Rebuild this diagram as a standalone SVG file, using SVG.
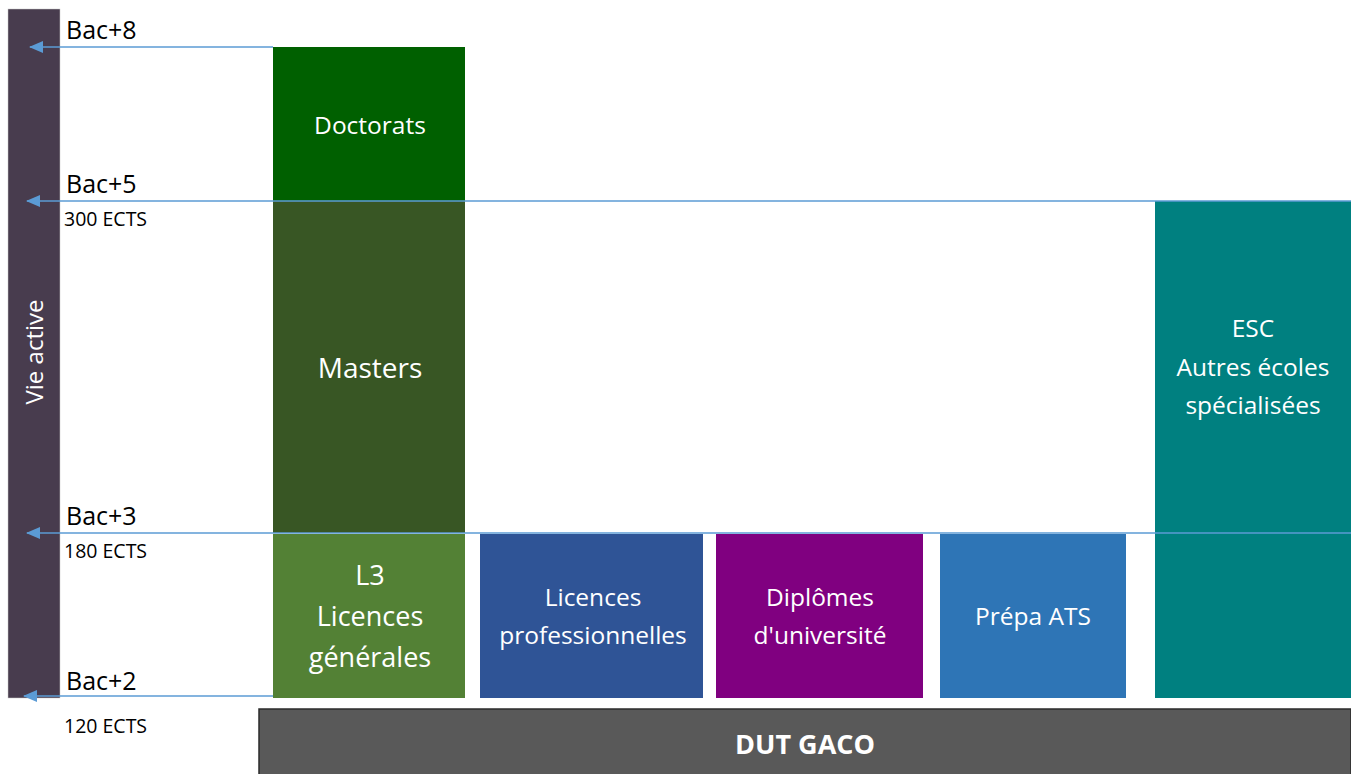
<svg xmlns="http://www.w3.org/2000/svg" width="1351" height="774" viewBox="0 0 1351 774">
<defs>
<style>
.lbl{font-family:"Open Sans","Liberation Sans",sans-serif;fill:#000}
.lvl{font-size:25px}
.ects{font-size:19.5px}
.nt{font-family:"Open Sans","Liberation Sans",sans-serif;fill:#fff;text-anchor:middle}
.conn line{stroke:#5B9BD5;stroke-width:1.5}
</style>
<marker id="ah" markerWidth="14" markerHeight="12" refX="13" refY="6" orient="auto" markerUnits="userSpaceOnUse">
<path d="M0,0 L14,6 L0,12 z" fill="#5B9BD5"/>
</marker>
</defs>
<rect width="1351" height="774" fill="#fff"/>
<g id="vie-active">
<rect x="8" y="9" width="52" height="689" fill="#483C4E" stroke="#c8c8c8" stroke-width="0.5"/>
<text class="nt" x="0" y="0" font-size="24" transform="translate(43,352) rotate(-90)">Vie active</text>
</g>
<g id="doctorats">
<rect x="273" y="47" width="192" height="154" fill="#006000"/>
<text class="nt" x="370" y="134" font-size="24.5">Doctorats</text>
</g>
<g id="masters">
<rect x="273" y="201" width="192" height="332" fill="#385624"/>
<text class="nt" x="370" y="378" font-size="28">Masters</text>
</g>
<g id="l3">
<rect x="273" y="534" width="192" height="164" fill="#538135"/>
<text class="nt" font-size="27"><tspan x="370" y="585">L3</tspan><tspan x="370" y="626">Licences</tspan><tspan x="370" y="667">générales</tspan></text>
</g>
<g id="licences-pro">
<rect x="480" y="534" width="223" height="164" fill="#2F5496"/>
<text class="nt" font-size="24.5"><tspan x="593" y="606">Licences</tspan><tspan x="593" y="644">professionnelles</tspan></text>
</g>
<g id="diplomes">
<rect x="716" y="534" width="207" height="164" fill="#800080"/>
<text class="nt" font-size="24.5"><tspan x="820" y="606">Diplômes</tspan><tspan x="820" y="644">d'université</tspan></text>
</g>
<g id="prepa-ats">
<rect x="940" y="534" width="186" height="164" fill="#2E75B6"/>
<text class="nt" x="1033" y="625" font-size="24.5">Prépa ATS</text>
</g>
<g id="esc">
<rect x="1155" y="201" width="196" height="497" fill="#008080"/>
<text class="nt" font-size="24.5"><tspan x="1253" y="337">ESC</tspan><tspan x="1253" y="376">Autres écoles</tspan><tspan x="1253" y="414">spécialisées</tspan></text>
</g>
<g id="dut-gaco">
<rect x="259" y="709" width="1092" height="66" fill="#595959" stroke="#2b2b2b" stroke-width="1.5"/>
<text class="nt" x="805" y="754" font-size="27" font-weight="bold">DUT GACO</text>
</g>
<g class="conn" id="connectors">
<line x1="273" y1="47" x2="30" y2="47" marker-end="url(#ah)"/>
<line x1="1351" y1="201" x2="27" y2="201" marker-end="url(#ah)"/>
<line x1="1351" y1="533" x2="27" y2="533" marker-end="url(#ah)"/>
<line x1="273" y1="696" x2="24" y2="696" marker-end="url(#ah)"/>
</g>
<g id="labels">
<text class="lbl lvl" x="66" y="39">Bac+8</text>
<text class="lbl lvl" x="66" y="193">Bac+5</text>
<text class="lbl ects" x="64" y="226">300 ECTS</text>
<text class="lbl lvl" x="66" y="525">Bac+3</text>
<text class="lbl ects" x="64" y="558">180 ECTS</text>
<text class="lbl lvl" x="66" y="690">Bac+2</text>
<text class="lbl ects" x="64" y="733">120 ECTS</text>
</g>
</svg>
